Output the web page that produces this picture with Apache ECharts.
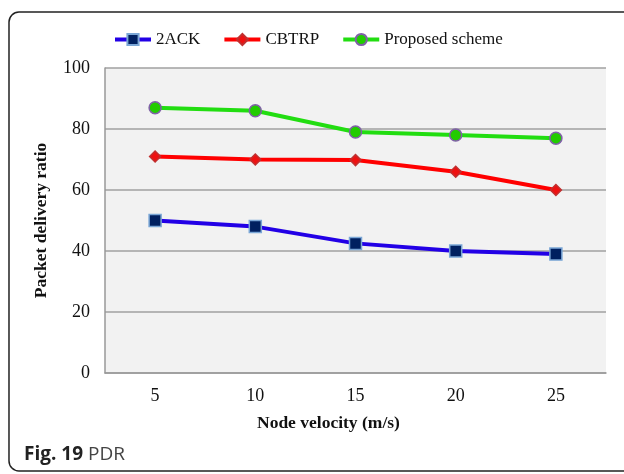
<!DOCTYPE html>
<html>
<head>
<meta charset="utf-8">
<style>
  html, body { margin: 0; padding: 0; background: #fff; }
  #main { width: 624px; height: 474px; }
</style>
<script src="https://cdn.jsdelivr.net/npm/echarts@6/dist/echarts.min.js"></script>
</head>
<body>
<div id="main"></div>
<script>
// node velocity (m/s)
const velocities = ['5', '10', '15', '20', '25'];
// packet delivery ratio per scheme
const ack2 = [50, 48, 42.5, 40, 39];
const cbtrp = [71, 70, 69.8, 66, 60];
const proposed = [87, 86, 79, 78, 77];
const yTicks = [0, 20, 40, 60, 80, 100];

const serif = '"Liberation Serif", "Times New Roman", serif';
const sans = '"Open Sans", "Noto Sans", sans-serif';
const chart = echarts.init(document.getElementById('main'), null, { renderer: 'canvas' });

function lineSeries(name, data, lineColor, symbol, size, fill, border) {
  return {
    name: name,
    type: 'line',
    data: data,
    symbol: symbol,
    symbolSize: size,
    showAllSymbol: true,
    lineStyle: { color: lineColor, width: 4 },
    itemStyle: { color: fill, borderColor: border, borderWidth: 1.5 },
    emphasis: { disabled: true },
    z: 3
  };
}

const option = {
  animation: false,
  backgroundColor: '#fff',
  title: [{
    text: 'Node velocity (m/s)',
    left: 252,
    top: 409,
    textStyle: { fontFamily: serif, fontWeight: 'bold', fontSize: 17.5, color: '#111' }
  }, {
    text: '{b|Fig. 19} {r|PDR}',
    left: 19,
    top: 440,
    textStyle: {
      rich: {
        b: { fontFamily: sans, fontWeight: 'bold', fontSize: 19, color: '#222' },
        r: { fontFamily: sans, fontWeight: 'normal', fontSize: 19, color: '#444' }
      }
    }
  }],
  graphic: [{
    type: 'rect',
    shape: { x: 9, y: 12, width: 700, height: 459, r: 10 },
    style: { fill: 'none', stroke: '#222', lineWidth: 1.5 },
    silent: true
  }],
  legend: {
    top: 26,
    left: 108,
    itemGap: 22,
    itemWidth: 36,
    itemHeight: 14,
    lineStyle: { width: 4 },
    textStyle: { fontFamily: serif, fontSize: 17, color: '#111' },
    data: ['2ACK', 'CBTRP', 'Proposed scheme']
  },
  grid: {
    left: 105,
    right: 18,
    top: 68,
    bottom: 101,
    show: true,
    backgroundColor: '#f2f2f2',
    borderWidth: 0
  },
  xAxis: {
    type: 'category',
    data: velocities,
    boundaryGap: true,
    axisLine: { show: true, lineStyle: { color: '#999', width: 1.5 } },
    axisTick: { show: false },
    axisLabel: { fontFamily: serif, fontSize: 18, color: '#111', margin: 14 }
  },
  yAxis: {
    type: 'value',
    min: yTicks[0],
    max: yTicks[yTicks.length - 1],
    interval: 20,
    name: 'Packet delivery ratio',
    nameLocation: 'middle',
    nameGap: 55,
    nameTextStyle: { fontFamily: serif, fontWeight: 'bold', fontSize: 17.5, color: '#111' },
    axisLine: { show: true, lineStyle: { color: '#999', width: 1.5 } },
    axisTick: { show: false },
    splitLine: { lineStyle: { color: '#a0a0a0', width: 1.5 } },
    axisLabel: { fontFamily: serif, fontSize: 18, color: '#111', margin: 15 }
  },
  series: [
    lineSeries('2ACK', ack2, '#2200e6', 'rect', 12, '#002060', '#7aa6d6'),
    lineSeries('CBTRP', cbtrp, '#ff0000', 'diamond', 11, '#ee1111', '#c03030'),
    lineSeries('Proposed scheme', proposed, '#22dd11', 'circle', 12, '#22cc00', '#8060a8')
  ]
};

chart.setOption(option);
</script>
</body>
</html>
